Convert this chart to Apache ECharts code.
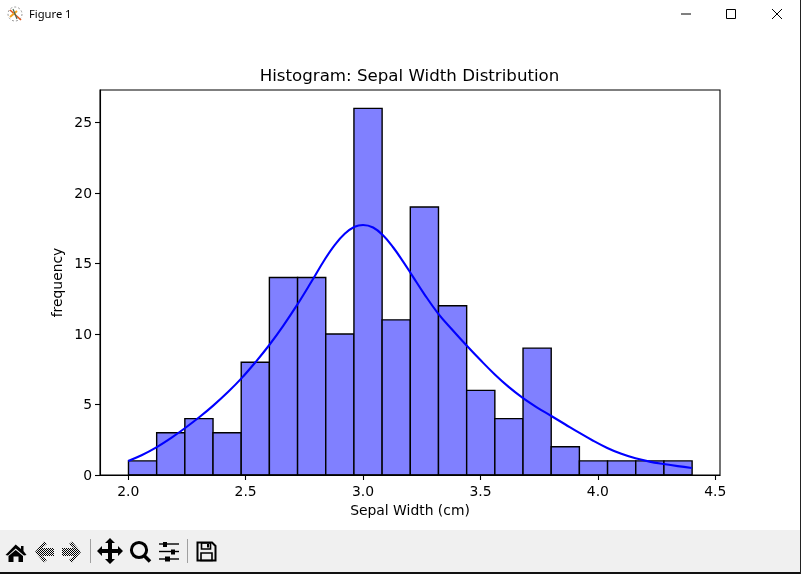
<!DOCTYPE html>
<html><head><meta charset="utf-8">
<style>html,body{margin:0;padding:0;background:#fff}#c{width:801px;height:574px}</style>
<script src="https://cdn.jsdelivr.net/npm/echarts@6/dist/echarts.min.js"></script>
</head><body><div id="c"></div>
<script>
const binEdges = [2.0,2.12,2.24,2.36,2.48,2.6,2.72,2.84,2.96,3.08,3.2,3.32,3.44,3.56,3.68,3.8,3.92,4.04,4.16,4.28,4.4];
const counts = [1,3,4,3,8,14,14,10,26,11,19,12,6,4,9,2,1,1,1,1];
const kdeX = [2.0,2.057,2.12,2.185,2.244,2.305,2.362,2.426,2.482,2.546,2.6,2.66,2.72,2.78,2.837,2.88,2.922,2.964,3.0,3.043,3.085,3.128,3.17,3.213,3.26,3.32,3.38,3.44,3.5,3.56,3.62,3.68,3.74,3.8,3.86,3.92,3.98,4.04,4.1,4.16,4.22,4.28,4.34,4.4];
const kdeY = [1.0,1.4,1.96,2.65,3.35,4.13,4.92,5.9,6.85,8.08,9.2,10.58,12.08,13.7,15.28,16.32,17.1,17.6,17.73,17.55,17.0,16.15,15.15,14.05,12.85,11.45,10.3,9.2,8.15,7.15,6.25,5.47,4.8,4.2,3.6,3.0,2.43,1.92,1.5,1.18,0.95,0.78,0.63,0.5];
const xTicks = [2.0,2.5,3.0,3.5,4.0,4.5];
const yTicks = [0,5,10,15,20,25];
const titleText = 'Histogram: Sepal Width Distribution';
const xName = 'Sepal Width (cm)';
const yName = 'frequency';
const FONT = '"DejaVu Sans"';

const chart = echarts.init(document.getElementById('c'), null, {renderer:'canvas'});

function dither(){
  const c = document.createElement('canvas'); c.width = 2; c.height = 2;
  const g = c.getContext('2d');
  g.fillStyle = '#f0f0f0'; g.fillRect(0,0,2,2);
  g.fillStyle = '#000'; g.fillRect(0,0,1,1); g.fillRect(1,1,1,1);
  return {image:c, repeat:'repeat'};
}
const ln = (x1,y1,x2,y2,stroke,w)=>({type:'line',silent:true,shape:{x1,y1,x2,y2},style:{stroke:stroke||'#000',lineWidth:w||1}});
const rc = (x,y,width,height,fill,stroke,w)=>({type:'rect',silent:true,shape:{x,y,width,height},style:{fill:fill||'transparent',stroke:stroke||null,lineWidth:w||0}});
const poly = (points,fill)=>({type:'polygon',silent:true,shape:{points},style:{fill:fill||'#000'}});

const pat = dither();
const chrome = [
  rc(0,530,801,42,'#f0f0f0'),
  rc(0,572,801,2,'#111'),
  rc(800,0,1,574,'#222'),
  // title bar
  {type:'text',silent:true,style:{x:29,y:15,text:'Figure 1',font:'11.2px "Noto Sans"',fill:'#000',textVerticalAlign:'middle'}},
  {type:'circle',silent:true,shape:{cx:15,cy:14,r:7},style:{fill:'transparent',stroke:'#999',lineWidth:1,lineDash:[2,2]}},
  ln(10,10,21,20,'#e0541b',1.6), ln(10,17,17,11,'#f2a020',2), ln(13,9,17,19,'#4a6a50',1.2),
  ln(681,14,691,14,'#000',1),
  rc(726.5,9.5,9,9,null,'#000',1),
  ln(772,9,782,19,'#000',1), ln(782,9,772,19,'#000',1),
  // home
  poly([[15.7,544.5],[21,549],[21,546],[23.5,546],[23.5,551],[26.5,555],[24,555.5],[15.7,548.5],[8,555.5],[5.5,555]]),
  poly([[15.7,550],[23,556],[23,562],[18.5,562],[18.5,556.5],[13.5,556.5],[13.5,562],[8.5,562],[8.5,556]]),
  // back / forward
  poly([[44,541.5],[47,544],[42,548],[54,548],[54,556],[42,556],[47,560],[44,562.5],[35,552]],pat),
  poly([[72,541.5],[69,544],[74,548],[62,548],[62,556],[74,556],[69,560],[72,562.5],[81,552]],pat),
  ln(90.5,539,90.5,563,'#a0a0a0',1),
  // move
  poly([[110,538],[115,543],[112,543],[112,549],[118,549],[118,546],[123,551],[118,556],[118,553],[112,553],[112,559],[115,559],[110,564],[105,559],[108,559],[108,553],[102,553],[102,556],[97,551],[102,546],[102,549],[108,549],[108,543],[105,543]]),
  // zoom
  {type:'circle',silent:true,shape:{cx:139,cy:550,r:7.6},style:{fill:'transparent',stroke:'#000',lineWidth:3}},
  ln(144,555.5,150,561.5,'#000',3.6),
  // sliders
  ln(159,544,179,544,'#000',1.4), ln(159,551.5,179,551.5,'#000',1.4), ln(159,559,179,559,'#000',1.4),
  rc(163,542,4,5,'#000'), rc(171,549.5,4,5,'#000'), rc(165,556.5,5,5,'#000'),
  ln(187.5,539,187.5,563,'#a0a0a0',1),
  // save
  {type:'polygon',silent:true,shape:{points:[[197.5,542.5],[212,542.5],[215.5,546],[215.5,560.5],[197.5,560.5]]},style:{fill:'transparent',stroke:'#000',lineWidth:2}},
  rc(201.5,543,9,6,'transparent','#000',1.6),
  rc(201,553,11,7.5,'transparent','#000',1.6),
  rc(207,544,2,3.5,'#000')
];

const bars = counts.map((c,i)=>[binEdges[i],binEdges[i+1],c]);

chart.setOption({
  animation:false,
  backgroundColor:'#fff',
  title:{text:titleText,left:404.5,top:62,textAlign:'center',textStyle:{fontFamily:FONT,fontSize:16.67,fontWeight:'normal',color:'#000',lineHeight:20}},
  grid:{left:100,top:90,right:81,bottom:99,containLabel:false},
  xAxis:{type:'value',min:1.88,max:4.52,
    name:xName,nameLocation:'middle',nameGap:29,nameMoveOverlap:false,nameTextStyle:{fontFamily:FONT,fontSize:13.9,color:'#000'},
    splitLine:{show:false},
    axisLine:{show:true,onZero:false,lineStyle:{color:'#000',width:1.1}},
    axisTick:{show:true,length:5,lineStyle:{color:'#000',width:1.1},customValues:xTicks},
    axisLabel:{show:true,margin:10,fontFamily:FONT,fontSize:13.9,color:'#000',customValues:xTicks,showMinLabel:true,showMaxLabel:true,formatter:v=>v.toFixed(1)}},
  yAxis:{type:'value',min:0,max:27.3,
    name:yName,nameLocation:'middle',nameGap:35,nameMoveOverlap:false,nameTextStyle:{fontFamily:FONT,fontSize:13.9,color:'#000'},
    splitLine:{show:false},
    axisLine:{show:true,lineStyle:{color:'#000',width:1.1}},
    axisTick:{show:true,length:5,lineStyle:{color:'#000',width:1.1},customValues:yTicks},
    axisLabel:{show:true,margin:8,color:'#000',customValues:yTicks,formatter:v=>'{t|'+v+'}',
      rich:{t:{fontFamily:FONT,fontSize:13.9,color:'#000',padding:[2,0,0,0]}}}},
  series:[
    {type:'custom',silent:true,data:bars,clip:false,encode:{x:[0,1],y:2},z:2,
     renderItem:(params,api)=>{
       const a=api.coord([api.value(0),api.value(2)]), b=api.coord([api.value(1),0]);
       return {type:'rect',shape:{x:a[0]+0.3,y:a[1],width:b[0]-a[0],height:b[1]-a[1]},style:{fill:'#8080ff',stroke:'#000',lineWidth:1.4}};
     }},
    {type:'line',silent:true,data:kdeX.map((x,i)=>[x,kdeY[i]]),smooth:0.4,showSymbol:false,symbol:'none',z:3,
     lineStyle:{color:'#0000ff',width:2.1}}
  ],
  graphic:[
    {type:'group',silent:true,z:1,children:chrome},
    {type:'rect',silent:true,z:5,shape:{x:100,y:90,width:620,height:385},style:{fill:'transparent',stroke:'#000',lineWidth:1.1}}
  ]
});
</script></body></html>
